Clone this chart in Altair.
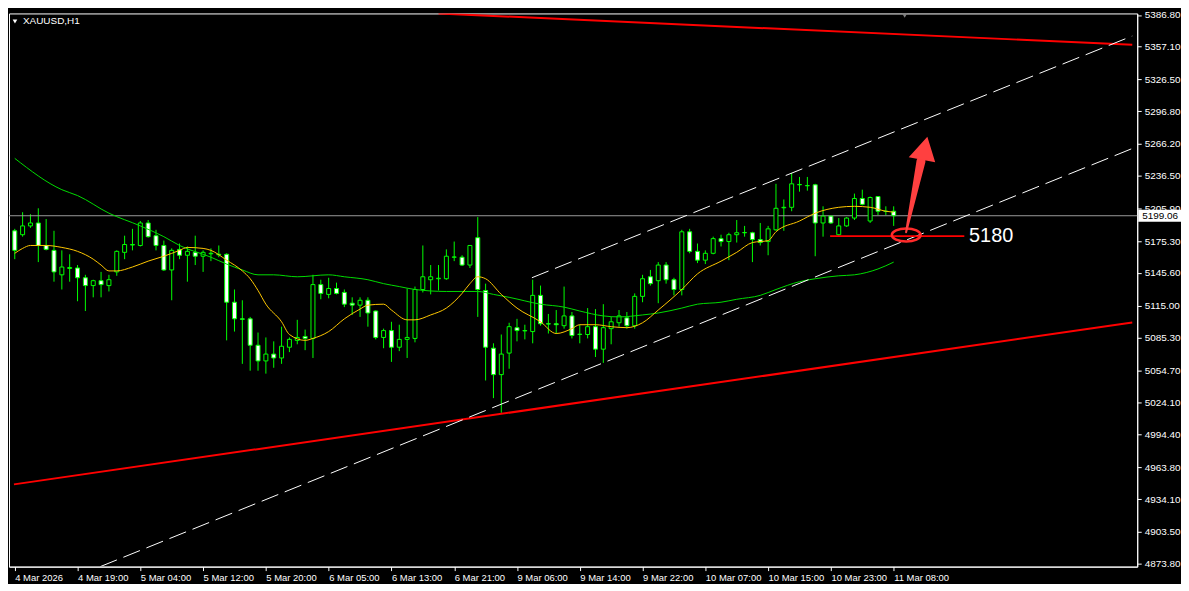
import altair as alt
import pandas as pd

# ---------------- data ----------------
bars = list(range(113))
opens = [5184.98, 5181.32, 5189.55, 5192.30, 5171.26, 5166.68, 5143.82, 5149.76, 5150.22, 5141.07,
         5133.75, 5138.33, 5133.75, 5146.56, 5164.85, 5171.70, 5171.26, 5192.30, 5180.40, 5171.26,
         5148.39, 5167.60, 5162.11, 5164.85, 5161.20, 5163.48, 5163.02, 5163.02, 5118.20, 5102.65,
         5102.65, 5077.96, 5063.32, 5069.72, 5066.07, 5076.13, 5082.53, 5086.19, 5084.36, 5134.67,
         5125.52, 5131.01, 5127.35, 5117.29, 5115.46, 5120.03, 5109.97, 5085.27, 5091.68, 5076.13,
         5083.45, 5084.36, 5130.10, 5139.24, 5140.16, 5140.16, 5160.28, 5160.28, 5152.96, 5178.57,
         5129.18, 5075.21, 5050.51, 5070.64, 5094.42, 5091.68, 5090.76, 5124.61, 5098.08, 5098.08,
         5096.25, 5105.40, 5088.02, 5088.02, 5095.34, 5074.30, 5093.51, 5099.00, 5103.57, 5096.25,
         5123.69, 5141.99, 5138.33, 5152.96, 5139.24, 5130.10, 5184.06, 5165.77, 5157.54, 5163.94,
         5177.66, 5174.92, 5181.32, 5183.15, 5183.15, 5176.75, 5174.92, 5185.89, 5206.49, 5206.94,
         5228.00, 5227.08, 5228.00, 5192.30, 5198.71, 5181.32, 5189.55, 5196.88, 5215.18, 5194.13,
         5217.01, 5203.28, 5203.28]
highs = [5186.81, 5202.37, 5200.54, 5206.03, 5195.96, 5184.98, 5166.68, 5163.02, 5152.96, 5143.82,
         5139.24, 5146.56, 5143.82, 5166.68, 5180.40, 5186.81, 5194.13, 5195.05, 5185.89, 5175.83,
         5168.51, 5173.09, 5170.34, 5180.40, 5166.68, 5168.51, 5171.26, 5163.94, 5130.10, 5120.03,
         5104.48, 5089.85, 5085.27, 5081.62, 5095.34, 5085.27, 5101.74, 5092.59, 5143.82, 5139.24,
         5141.07, 5136.50, 5130.10, 5122.78, 5122.78, 5122.78, 5110.50, 5093.51, 5099.91, 5097.17,
         5131.01, 5132.84, 5171.26, 5152.96, 5152.96, 5167.60, 5174.92, 5162.11, 5171.70, 5197.79,
         5135.58, 5079.79, 5088.02, 5099.00, 5102.65, 5097.17, 5139.24, 5133.75, 5107.23, 5110.89,
         5132.84, 5109.06, 5097.17, 5112.72, 5111.80, 5116.37, 5104.48, 5110.89, 5109.06, 5126.44,
         5143.82, 5148.39, 5155.71, 5155.71, 5141.07, 5185.89, 5186.81, 5173.09, 5166.68, 5179.49,
         5181.32, 5183.15, 5195.05, 5189.55, 5184.06, 5192.30, 5189.55, 5228.91, 5214.27, 5238.98,
         5235.32, 5235.32, 5228.91, 5207.86, 5198.90, 5196.88, 5197.79, 5219.76, 5223.42, 5217.01,
         5217.20, 5207.86, 5207.86]
lows = [5158.45, 5179.49, 5187.72, 5155.71, 5166.68, 5137.41, 5130.10, 5137.41, 5119.12, 5109.97,
        5122.78, 5122.78, 5128.27, 5142.90, 5158.45, 5166.68, 5170.34, 5178.57, 5166.68, 5147.47,
        5120.03, 5158.45, 5137.41, 5152.96, 5146.56, 5156.62, 5160.28, 5082.53, 5090.76, 5060.58,
        5054.17, 5054.17, 5051.43, 5056.92, 5060.58, 5071.55, 5078.87, 5073.38, 5066.07, 5120.95,
        5121.86, 5125.52, 5113.63, 5106.31, 5104.48, 5095.34, 5083.45, 5075.21, 5062.41, 5072.47,
        5066.07, 5080.70, 5127.35, 5125.52, 5129.18, 5139.24, 5156.62, 5152.05, 5150.22, 5104.48,
        5045.02, 5028.54, 5014.81, 5056.00, 5081.62, 5083.45, 5079.79, 5096.25, 5088.93, 5088.93,
        5093.51, 5084.36, 5079.79, 5084.36, 5066.98, 5061.49, 5078.87, 5095.34, 5093.51, 5093.51,
        5118.20, 5133.75, 5117.29, 5135.58, 5124.61, 5124.61, 5163.94, 5154.79, 5153.88, 5163.02,
        5170.34, 5157.54, 5174.00, 5179.49, 5155.71, 5171.26, 5162.11, 5184.98, 5184.98, 5203.28,
        5221.59, 5222.50, 5161.20, 5179.49, 5191.39, 5180.40, 5188.64, 5195.05, 5208.77, 5192.30,
        5199.62, 5199.62, 5189.55]
closes = [5166.68, 5189.55, 5192.30, 5171.26, 5167.60, 5146.56, 5151.13, 5150.68, 5141.07, 5133.75,
          5138.33, 5134.67, 5139.24, 5165.77, 5172.17, 5172.17, 5192.30, 5179.49, 5171.26, 5148.39,
          5166.68, 5162.11, 5165.77, 5161.20, 5164.85, 5163.94, 5162.57, 5118.20, 5102.65, 5102.20,
          5077.96, 5063.32, 5069.72, 5066.07, 5077.04, 5083.45, 5085.27, 5084.36, 5134.67, 5126.44,
          5131.01, 5126.44, 5116.37, 5115.46, 5120.03, 5108.14, 5085.27, 5091.68, 5076.13, 5083.45,
          5085.27, 5130.10, 5141.99, 5141.99, 5140.60, 5161.20, 5160.50, 5152.96, 5171.26, 5130.10,
          5076.13, 5050.51, 5069.72, 5095.34, 5091.68, 5091.40, 5124.61, 5098.08, 5097.80, 5097.17,
          5105.40, 5087.10, 5088.30, 5095.34, 5074.30, 5094.42, 5099.91, 5105.40, 5096.25, 5123.69,
          5140.16, 5135.58, 5152.96, 5139.24, 5130.10, 5184.06, 5165.77, 5157.54, 5163.94, 5177.66,
          5174.92, 5181.32, 5183.15, 5183.40, 5176.75, 5174.00, 5186.81, 5206.03, 5206.94, 5228.91,
          5228.30, 5227.30, 5192.30, 5198.71, 5192.30, 5189.55, 5196.88, 5215.18, 5209.69, 5216.10,
          5203.28, 5203.00, 5199.06]

time_labels = ['4 Mar 2026', '4 Mar 19:00', '5 Mar 04:00', '5 Mar 12:00', '5 Mar 20:00',
               '6 Mar 05:00', '6 Mar 13:00', '6 Mar 21:00', '9 Mar 06:00', '9 Mar 14:00',
               '9 Mar 22:00', '10 Mar 07:00', '10 Mar 15:00', '10 Mar 23:00', '11 Mar 08:00']
price_ticks = [5386.8, 5357.1, 5326.5, 5296.8, 5266.2, 5236.5, 5205.9, 5175.3, 5145.6,
               5115.0, 5085.3, 5054.7, 5024.1, 4994.4, 4963.8, 4934.1, 4903.5, 4873.8]

ma_fast_bar = [0, 1, 2, 4, 6, 8, 10, 11, 12, 13, 15, 17, 19, 21, 22, 24, 25, 27, 29, 30, 31, 32,
               34, 35, 37, 38, 40, 42, 44, 45, 47, 48, 50, 51, 53, 55, 57, 58, 59, 60, 62, 64, 67,
               69, 71, 72, 74, 76, 78, 80, 82, 85, 87, 90, 92, 94, 96, 97, 100, 102, 105, 107,
               109, 111, 112]
ma_fast_val = [5163.94, 5168.51, 5171.26, 5171.26, 5169.43, 5165.77, 5158.45, 5152.96, 5147.47,
               5147.47, 5151.13, 5156.62, 5161.20, 5166.68, 5169.43, 5168.51, 5166.68, 5157.54,
               5147.47, 5140.16, 5129.18, 5116.37, 5099.91, 5088.02, 5082.53, 5084.36, 5090.76,
               5102.65, 5111.80, 5115.46, 5116.37, 5110.89, 5101.74, 5101.74, 5106.31, 5112.72,
               5126.44, 5135.58, 5141.99, 5140.16, 5125.52, 5112.72, 5099.91, 5088.93, 5093.51,
               5097.17, 5097.17, 5095.34, 5094.42, 5099.00, 5110.89, 5130.10, 5144.73, 5156.62,
               5164.85, 5174.00, 5175.83, 5184.06, 5194.13, 5201.45, 5206.94, 5207.86, 5206.94,
               5203.28, 5202.37]
ma_slow_bar = [0, 6, 8, 12, 16, 19, 21, 25, 27, 29, 31, 33, 36, 40, 42, 45, 47, 49, 51, 55, 59,
               61, 63, 67, 70, 72, 75, 77, 80, 82, 85, 87, 90, 92, 95, 97, 100, 102, 105, 107,
               110, 112]
ma_slow_val = [5252.71, 5223.42, 5217.93, 5201.45, 5189.55, 5179.49, 5171.26, 5160.28, 5153.88,
               5148.39, 5143.82, 5143.82, 5141.99, 5143.82, 5141.99, 5139.24, 5135.58, 5132.84,
               5130.10, 5128.27, 5128.27, 5125.52, 5122.78, 5116.37, 5113.63, 5109.97, 5105.40,
               5104.48, 5106.31, 5108.14, 5112.72, 5116.37, 5118.20, 5120.95, 5124.61, 5130.10,
               5137.41, 5140.16, 5142.90, 5143.82, 5149.30, 5155.71]

# drawn objects: (bar index, price) endpoints
red_line_names = ['top', 'top', 'bottom', 'bottom']
red_line_bar = [54.0, 142.4, -0.1, 142.4]
red_line_price = [5388.2, 5358.9, 4947.9, 5099.2]
chan_names = ['upper', 'upper', 'lower', 'lower']
chan_bar = [65.9, 142.4, 10.9, 142.4]
chan_price = [5141.1, 5367.1, 4871.0, 5261.9]

current_price = 5199.06
level_price = 5180.0
level_bar = [103.9, 121.0]
level_text = '5180'
ellipse_bar, ellipse_price = 113.6, 5181.0
shaft_bar = [113.58, 115.48]
shaft_price = [5183.6, 5250.0]
shaft_width = [2.0, 9.0]
head_bar = [113.92, 116.29, 117.29]
head_top = [5253.63, 5272.85, 5249.05]
head_bot = [5253.63, 5250.42, 5249.05]
symbol_title = 'XAUUSD,H1'

# ---------------- layout / style ----------------
W, H = 1134, 556
XDOM = [-0.1, 142.4]
YDOM = [4871.0, 5388.2]
LIME = '#00ff00'
FONT = 'Liberation Sans'

xsc = alt.Scale(domain=XDOM, nice=False, zero=False)
ysc = alt.Scale(domain=YDOM, nice=False, zero=False)

label_js = "[" + ",".join("'%s'" % s for s in time_labels) + "]"
xaxis = alt.Axis(values=list(range(0, 113, 8)),
                 labelExpr=label_js + "[round(datum.value/8)]",
                 labelAlign='left', labelBaseline='top', labelPadding=2,
                 labelColor='white', labelFont=FONT, labelFontSize=9.5,
                 tickColor='white', tickSize=4, domainColor='white',
                 grid=False, title=None, labelOverlap=False, labelFlush=False)
yaxis = alt.Axis(orient='right', values=price_ticks, format='.2f',
                 labelAlign='left', labelBaseline='middle', labelPadding=3,
                 labelColor='white', labelFont=FONT, labelFontSize=10,
                 tickColor='white', tickSize=4, domainColor='white',
                 grid=False, title=None, labelOverlap=False, labelFlush=False)


def X(f):
    return alt.X(f, scale=xsc, axis=xaxis)


def Y(f):
    return alt.Y(f, scale=ysc, axis=yaxis)


candles = pd.DataFrame({'bar': bars, 'open': opens, 'high': highs,
                        'low': lows, 'close': closes})
candles['fill'] = ['#ffffff' if c < o else '#000000' for o, c in zip(opens, closes)]

one = pd.DataFrame({'k': [0]})

price_line = alt.Chart(pd.DataFrame({'p': [current_price]})).mark_rule(
    color='#9a9a9a', strokeWidth=1).encode(
    x=alt.value(0), x2=alt.value(W), y=Y('p:Q'))

wicks = alt.Chart(candles).mark_rule(color=LIME, strokeWidth=1, clip=True).encode(
    x=X('bar:Q'), y=Y('low:Q'), y2='high:Q')

bodies = alt.Chart(candles).mark_bar(width=4, stroke=LIME, strokeWidth=1, clip=True).encode(
    x=X('bar:Q'), y=Y('open:Q'), y2='close:Q',
    fill=alt.Fill('fill:N', scale=None))

ma_fast = alt.Chart(pd.DataFrame({'bar': ma_fast_bar, 'p': ma_fast_val})).mark_line(
    color='#ffc800', strokeWidth=1, interpolate='monotone', clip=True).encode(
    x=X('bar:Q'), y=Y('p:Q'))
ma_slow = alt.Chart(pd.DataFrame({'bar': ma_slow_bar, 'p': ma_slow_val})).mark_line(
    color='#00dd00', strokeWidth=1, interpolate='monotone', clip=True).encode(
    x=X('bar:Q'), y=Y('p:Q'))

red_lines = alt.Chart(pd.DataFrame({'n': red_line_names, 'bar': red_line_bar,
                                    'p': red_line_price})).mark_line(
    color='#ff0000', strokeWidth=2, clip=True).encode(
    x=X('bar:Q'), y=Y('p:Q'), detail='n:N')

chan_lines = alt.Chart(pd.DataFrame({'n': chan_names, 'bar': chan_bar,
                                     'p': chan_price})).mark_line(
    color='#ffffff', strokeWidth=1, strokeDash=[18, 7], clip=True).encode(
    x=X('bar:Q'), y=Y('p:Q'), detail='n:N')

level_line = alt.Chart(pd.DataFrame({'b1': [level_bar[0]], 'b2': [level_bar[1]],
                                     'p': [level_price]})).mark_rule(
    color='#ff0000', strokeWidth=2).encode(x=X('b1:Q'), x2='b2:Q', y=Y('p:Q'))

level_label = alt.Chart(pd.DataFrame({'b': [level_bar[1] + 0.6], 'p': [level_price],
                                      't': [level_text]})).mark_text(
    align='left', baseline='middle', color='white', font=FONT, fontSize=20).encode(
    x=X('b:Q'), y=Y('p:Q'), text='t:N')

ellipse = alt.Chart(pd.DataFrame({'b': [ellipse_bar], 'p': [ellipse_price]})).mark_point(
    shape='M-1,0 A1,0.45 0 1,1 1,0 A1,0.45 0 1,1 -1,0 Z', size=841,
    filled=False, stroke='#ff2a2a', strokeWidth=2.5, opacity=1).encode(
    x=X('b:Q'), y=Y('p:Q'))

shaft = alt.Chart(pd.DataFrame({'b': shaft_bar, 'p': shaft_price, 'w': shaft_width,
                                'o': [0, 1]})).mark_trail(color='#ff4040').encode(
    x=X('b:Q'), y=Y('p:Q'), size=alt.Size('w:Q', scale=None), order='o:Q')

head = alt.Chart(pd.DataFrame({'b': head_bar, 't': head_top, 'u': head_bot})).mark_area(
    color='#ff4040', opacity=1).encode(x=X('b:Q'), y=Y('t:Q'), y2='u:Q')

box_half = (YDOM[1] - YDOM[0]) / H * 6.0
price_box = alt.Chart(pd.DataFrame({'t': [current_price + box_half],
                                    'u': [current_price - box_half]})).mark_rect(
    fill='white').encode(x=alt.value(W + 1), x2=alt.value(W + 44), y=Y('t:Q'), y2='u:Q')
price_text = alt.Chart(pd.DataFrame({'p': [current_price],
                                     't': ['%.2f' % current_price]})).mark_text(
    align='left', baseline='middle', color='black', font=FONT, fontSize=10).encode(
    x=alt.value(W + 5), y=Y('p:Q'), text='t:N')

title_tri = alt.Chart(one).mark_point(shape='triangle-down', filled=True, color='white',
                                      size=22, opacity=1).encode(
    x=alt.value(6), y=alt.value(8))
title_text = alt.Chart(pd.DataFrame({'t': [symbol_title]})).mark_text(
    align='left', baseline='middle', color='white', font=FONT, fontSize=10).encode(
    x=alt.value(14), y=alt.value(8), text='t:N')
shift_tri = alt.Chart(pd.DataFrame({'b': [113.4]})).mark_point(
    shape='triangle-down', filled=True, color='#808080', size=28, opacity=1).encode(
    x=X('b:Q'), y=alt.value(2))

chart = alt.layer(
    wicks, price_line, bodies, ma_slow, ma_fast, red_lines, chan_lines,
    level_line, level_label, ellipse, shaft, head, price_box, price_text,
    title_tri, title_text, shift_tri
).properties(
    width=W, height=H, background='black',
    padding={'left': 0, 'right': 0, 'top': 0, 'bottom': 0}
).configure_view(stroke='white', strokeWidth=1, fill='black')

chart.save('out.html', embed_options={'renderer': 'svg', 'actions': False})
